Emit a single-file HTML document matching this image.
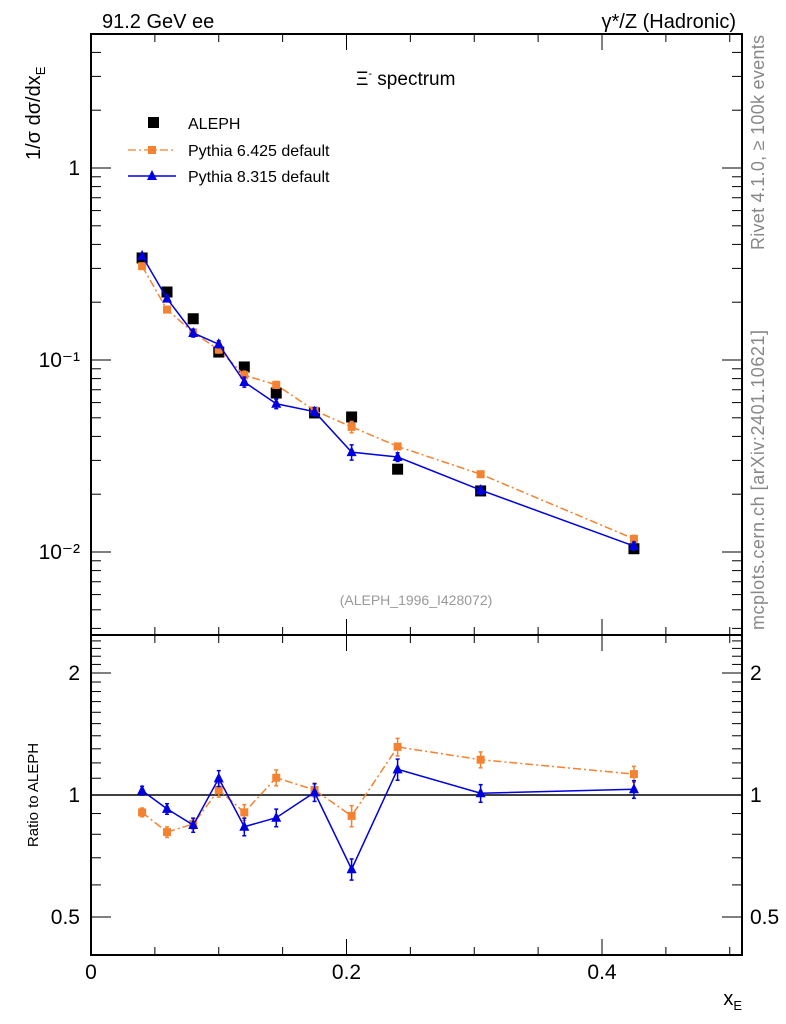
<!DOCTYPE html>
<html><head><meta charset="utf-8"><style>
html,body{margin:0;padding:0;background:#fff}
svg{display:block;font-family:"Liberation Sans",sans-serif}
</style></head><body>
<svg id="c" width="786" height="1024" viewBox="0 0 786 1024" xmlns="http://www.w3.org/2000/svg">
<text x="102" y="28" font-size="20">91.2 GeV ee</text>
<text x="736" y="28" font-size="20" text-anchor="end">γ*/Z (Hadronic)</text>
<text x="356" y="85" font-size="19">Ξ<tspan font-size="11" dy="-8">-</tspan><tspan dy="8"> spectrum</tspan></text>
<text transform="translate(764,250) rotate(-90)" textLength="215" font-size="18" fill="#888">Rivet 4.1.0, ≥ 100k events</text>
<text transform="translate(764,630) rotate(-90)" textLength="300" font-size="18" fill="#888">mcplots.cern.ch [arXiv:2401.10621]</text>
<text transform="translate(40,160) rotate(-90)" font-size="20">1/σ  dσ/dx<tspan font-size="13" dy="5">E</tspan></text>
<text transform="translate(38,795) rotate(-90)" font-size="15" text-anchor="middle">Ratio to ALEPH</text>
<text x="742" y="1005" font-size="20" text-anchor="end">x<tspan font-size="13" dy="5">E</tspan></text>
<text x="416" y="605" font-size="14" fill="#999" text-anchor="middle">(ALEPH_1996_I428072)</text>
<g id="legend">
<rect x="148" y="117" width="11" height="11" fill="#000"/>
<text x="188" y="129" font-size="16">ALEPH</text>
<line x1="128" y1="150" x2="176" y2="150" stroke="#ff7f2a" stroke-width="1.3" stroke-dasharray="8,3,2,3"/>
<rect x="148" y="146" width="8" height="8" fill="#f58231"/>
<text x="188" y="156" font-size="16">Pythia 6.425 default</text>
<line x1="128" y1="176" x2="176" y2="176" stroke="#0000e0" stroke-width="1.5"/>
<polygon points="152,170 157,180 147,180" fill="#0000e0"/>
<text x="188" y="182" font-size="16">Pythia 8.315 default</text>
</g>
<g id="axes"></g>
<g id="marks"></g>
</svg>
<script>
const xVals=[0.040,0.0595,0.080,0.100,0.120,0.145,0.175,0.204,0.240,0.305,0.425];
const alephVals=[0.340,0.226,0.164,0.110,0.092,0.0673,0.053,0.0505,0.027,0.0208,0.0104];
const py6Ratio=[0.906,0.810,0.848,1.029,0.906,1.103,1.029,0.888,1.314,1.222,1.126];
const py8Ratio=[1.025,0.924,0.843,1.099,0.835,0.879,1.015,0.656,1.157,1.010,1.033];
const py6Err=[0.025,0.03,0.03,0.04,0.045,0.045,0.04,0.06,0.05,0.045,0.045];
const py8Err=[0.025,0.03,0.04,0.045,0.05,0.05,0.05,0.06,0.06,0.05,0.05];
const xTickLabels=["0","0.2","0.4"];
const xTickVals=[0,0.2,0.4];
const mainTickVals=[1,0.1,0.01];
const mainTickLabels=["1","10⁻¹","10⁻²"];
const ratioTickVals=[0.5,1,2];
const ratioTickLabels=["0.5","1","2"];

const NS="http://www.w3.org/2000/svg";
const L=91,R=742,MT=34,MB=635,RT=635,RB=955;
const xMax=(R-L)/1277.5;
const X=v=>L+v*1277.5;
const YM=v=>168-192*Math.log10(v);
const YR=v=>795-122*Math.log2(v);
const axes=document.getElementById('axes'),marks=document.getElementById('marks');
function el(t,a,p){const e=document.createElementNS(NS,t);for(const k in a)e.setAttribute(k,a[k]);(p||axes).appendChild(e);return e;}
function ln(x1,y1,x2,y2,p,sw,col){return el('line',{x1,y1,x2,y2,stroke:col||'#000','stroke-width':sw||1},p);}

const f1=el('rect',{x:L,y:MT,width:R-L,height:MB-MT,fill:'none',stroke:'#000','stroke-width':2});


const f2=el('rect',{x:L,y:RT,width:R-L,height:RB-RT,fill:'none',stroke:'#000','stroke-width':2});



for(let i=0;i*0.05<=xMax+1e-9;i++){
  const v=i*0.05,x=X(v),maj=(i%4===0),len=maj?16:8;
  [MT,RT].forEach(t=>ln(x,t,x,t+len));
  [MB,RB].forEach(b=>ln(x,b,x,b-len));
}
xTickVals.forEach((v,i)=>{
  const t=el('text',{x:X(v),y:979,'font-size':21,'text-anchor':'middle'});
  t.textContent=xTickLabels[i];
  
  
});
for(let d=-3;d<=0;d++){
  for(let m=1;m<=9;m++){
    const v=m*Math.pow(10,d),y=YM(v);
    if(y<MT||y>MB)continue;
    const len=m===1?20:10;
    ln(L,y,L+len,y);ln(R,y,R-len,y);
  }
}
mainTickVals.forEach((v,i)=>{
  const t=el('text',{x:80,y:YM(v)+7,'font-size':21,'text-anchor':'end'});
  t.textContent=mainTickLabels[i];
  
  
});
for(let k=4;k<=25;k++){
  const v=k/10,y=YR(v);
  if(y<RT||y>RB)continue;
  const maj=(k===5||k===10||k===20),len=maj?20:10;
  ln(L,y,L+len,y);ln(R,y,R-len,y);
}
ratioTickVals.forEach((v,i)=>{
  [80,750].forEach((x,j)=>{
    const t=el('text',{x:x,y:YR(v)+7,'font-size':21,'text-anchor':j?'start':'end'});
    t.textContent=ratioTickLabels[i];
    
    
  });
});
const one=ln(L,YR(1),R,YR(1),axes,1.5);



function series(ratios,errs,col,dash,shape,name){
  const mainPts=xVals.map((x,i)=>[X(x),YM(alephVals[i]*ratios[i])]);
  const ratPts=xVals.map((x,i)=>[X(x),YR(ratios[i])]);
  [[mainPts,YM,true],[ratPts,YR,false]].forEach(([pts,Y,isMain])=>{
    const pl=el('polyline',{points:pts.map(p=>p.join(',')).join(' '),fill:'none',stroke:col,'stroke-width':1.5,'stroke-dasharray':dash},marks);
    
    
    xVals.forEach((x,i)=>{
      const c=isMain?alephVals[i]*ratios[i]:ratios[i];
      const y1=Y(c*(1+errs[i]/(isMain?ratios[i]:1))), y2=Y(c*(1-errs[i]/(isMain?ratios[i]:1)));
      const xx=X(x);
      ln(xx,y1,xx,y2,marks,1.5,col);ln(xx-2,y1,xx+2,y1,marks,1.5,col);ln(xx-2,y2,xx+2,y2,marks,1.5,col);
      const y=Y(c);let m;
      if(shape==='sq'){m=el('rect',{x:xx-4,y:y-4,width:8,height:8,fill:col},marks);}
      else{m=el('polygon',{points:`${xx},${y-6} ${xx+5},${y+4} ${xx-5},${y+4}`,fill:col},marks);}
      
      
    });
  });
}
xVals.forEach((x,i)=>{
  const r=el('rect',{x:X(x)-5.5,y:YM(alephVals[i])-5.5,width:11,height:11,fill:'#000'},marks);
  
  
});
series(py6Ratio,py6Err,'#f58231','8,3,2,3','sq','pythia6');
series(py8Ratio,py8Err,'#0000e0','none','tri','pythia8');
</script>
</body></html>
